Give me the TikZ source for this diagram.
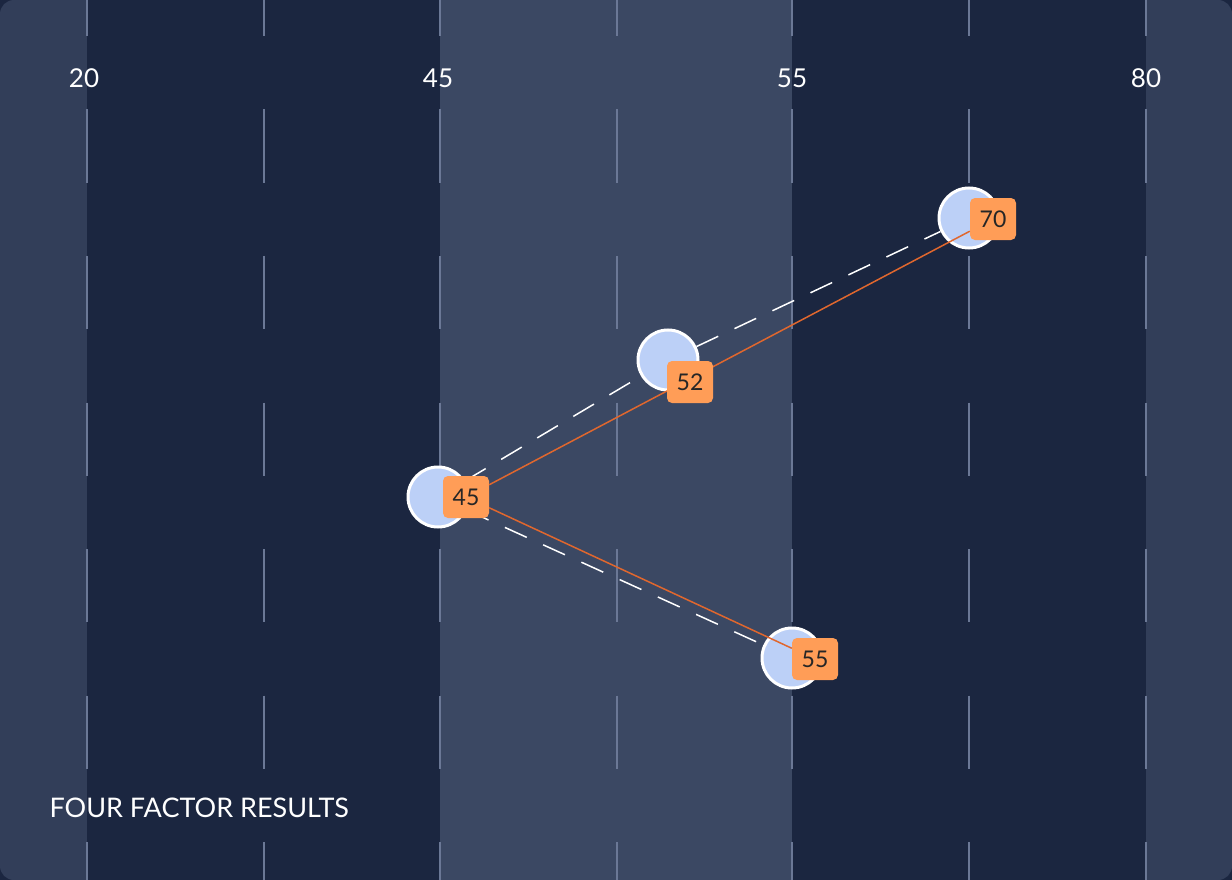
\documentclass[tikz,border=0pt]{standalone}
\usepackage{fontspec}
\setmainfont{Lato}
\definecolor{pagebg}{HTML}{1B2640}
\definecolor{edge}{HTML}{323E59}
\definecolor{darkband}{HTML}{1B2640}
\definecolor{midband}{HTML}{3B4863}
\definecolor{gridc}{HTML}{6B7896}
\definecolor{dotfill}{HTML}{BCD0F7}
\definecolor{tagc}{HTML}{FF9D57}
\definecolor{linec}{HTML}{E0672E}
\begin{document}
\begin{tikzpicture}[x=1pt,y=-1pt,
  dot/.style={circle,draw=white,line width=3pt,fill=dotfill,minimum size=60pt,inner sep=0},
  tag/.style={fill=tagc,rounded corners=5pt,minimum width=46pt,minimum height=42pt,inner sep=0,font=\fontsize{23}{23}\selectfont,text=black!85},
  tick/.style={text=white,font=\fontsize{26}{26}\selectfont},
  grid/.style={draw=gridc,line width=1.3pt,dash pattern=on 73.3pt off 73.3pt}]
\fill[pagebg] (0,0) rectangle (1232,880);
\begin{scope}
\clip[rounded corners=14pt] (0,0) rectangle (1232,880);
\fill[edge] (0,0) rectangle (1232,880);
\fill[darkband] (87,0) rectangle (440,880);
\fill[midband] (440,0) rectangle (792,880);
\fill[darkband] (792,0) rectangle (1146,880);
\foreach \x in {87,264,440,617,792,969,1146}
  \draw[grid] (\x,-37.3) -- (\x,900);
\end{scope}
\node[tick] (t20) at (84,78) {20};
\node[tick] (t45) at (438,78) {45};
\node[tick] (t55) at (792,78) {55};
\node[tick] (t80) at (1146,78) {80};
\node[dot] (a) at (438,497) {};
\node[dot] (b) at (668,360) {};
\node[dot] (c) at (969,218) {};
\node[dot] (d) at (792,658) {};
\draw[white,line width=1.5pt,dash pattern=on 24pt off 18pt] (a) -- (b);
\draw[white,line width=1.5pt,dash pattern=on 24pt off 18pt] (b) -- (c);
\draw[white,line width=1.5pt,dash pattern=on 24pt off 18pt] (a) -- (d);
\node[tag] (la) at (466,497) {45};
\node[tag] (lc) at (993,219) {70};
\node[tag] (ld) at (815,659) {55};
\draw[linec,line width=1.5pt] (la) -- (lc);
\draw[linec,line width=1.5pt] (la) -- (ld);
\node[tag] (lb) at (690,382) {52};
\node[anchor=west,text=white,font=\fontsize{27}{27}\selectfont] (title) at (46,808) {FOUR FACTOR RESULTS};
\end{tikzpicture}
\end{document}
